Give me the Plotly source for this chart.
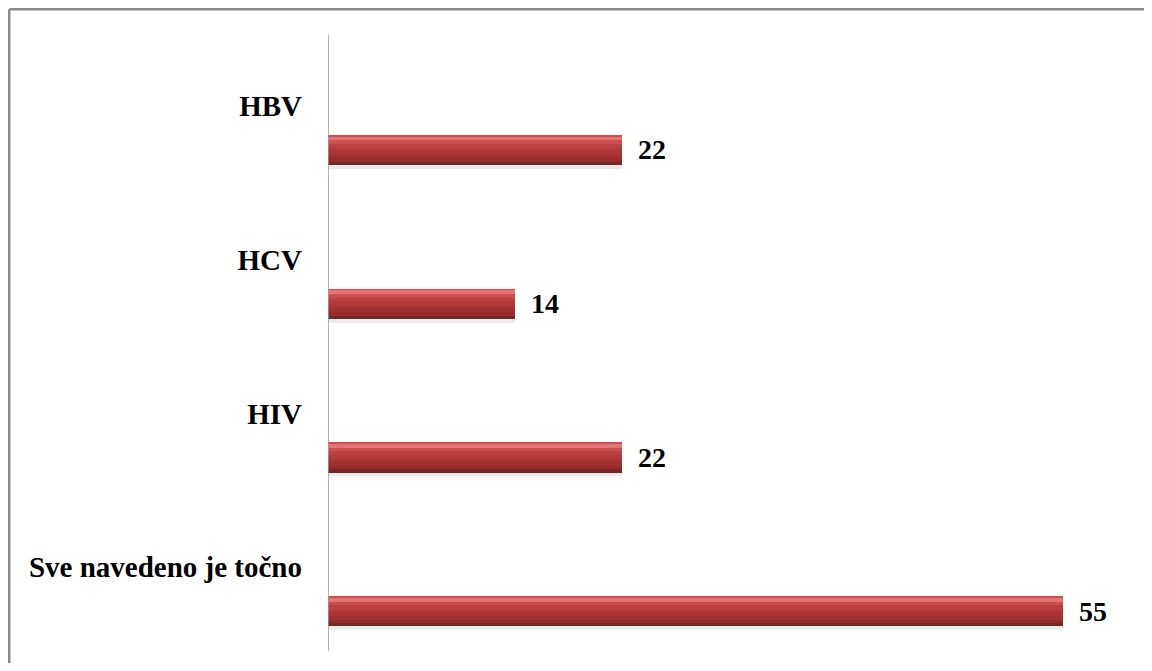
import plotly.graph_objects as go

# data
categories = ["HBV", "HCV", "HIV", "Sve navedeno je točno"]
values = [22, 14, 22, 55]

FONT = "Times New Roman, Liberation Serif, serif"

# bar sits in the lower part of each category band (label above it)
BAR_OFFSET = 0.189
BAR_WIDTH = 0.195

# horizontal slices used to fake the bevelled 3d look: (start, end, colour)
slices = [
    (0.00, 0.06, "#c85252"),
    (0.06, 0.18, "#e27474"),
    (0.18, 0.30, "#cd5050"),
    (0.30, 0.42, "#be4141"),
    (0.42, 0.54, "#b43a3a"),
    (0.54, 0.66, "#aa3434"),
    (0.66, 0.78, "#a02f2f"),
    (0.78, 0.90, "#962b2b"),
    (0.90, 1.00, "#7e2323"),
]

fig = go.Figure()

# faint drop shadow
fig.add_trace(go.Bar(
    x=values, y=categories, orientation="h",
    offset=BAR_OFFSET + 0.025, width=BAR_WIDTH,
    marker=dict(color="rgba(0,0,0,0.08)", line=dict(width=0)),
    hoverinfo="skip", showlegend=False,
))

for start, end, color in slices:
    fig.add_trace(go.Bar(
        x=values, y=categories, orientation="h",
        offset=BAR_OFFSET + start * BAR_WIDTH,
        width=(end - start) * BAR_WIDTH + 0.002,
        marker=dict(color=color, line=dict(width=0)),
        hoverinfo="skip", showlegend=False,
    ))

# value labels just right of each bar
for i, v in enumerate(values):
    fig.add_annotation(
        x=v, y=i + BAR_OFFSET + BAR_WIDTH / 2,
        text=str(v), showarrow=False,
        xanchor="left", yanchor="middle", xshift=14,
        font=dict(family=FONT, size=28, color="black", weight="bold"),
    )

# page adds an 8px body margin all round, so the figure is shrunk to fit
# the window without scrollbars
# outer chart border: only top and left edges are in view
border = dict(color="#8a8a8a", width=2.5)
fig.add_shape(type="line", xref="paper", yref="paper",
              x0=-0.3975, x1=1.2, y0=1.032, y1=1.032, line=border)
fig.add_shape(type="line", xref="paper", yref="paper",
              x0=-0.3975, x1=-0.3975, y0=-0.2, y1=1.032, line=border)
# vertical category axis line
fig.add_shape(type="line", xref="x", yref="paper",
              x0=0, x1=0, y0=-0.0114, y1=0.9902,
              line=dict(color="#9a9a9a", width=1.5))

fig.update_layout(
    width=1136, height=655,
    margin=dict(l=320, r=14, t=21, b=19),
    paper_bgcolor="white", plot_bgcolor="white",
    barmode="overlay", bargap=0,
    showlegend=False,
)
fig.update_xaxes(range=[0, 60], visible=False, fixedrange=True)
fig.update_yaxes(
    type="category", categoryorder="array", categoryarray=categories,
    range=[3.5, -0.5],
    showgrid=False, zeroline=False, showline=False, ticks="",
    ticklabelstandoff=25,
    tickfont=dict(family=FONT, size=29, color="black", weight="bold"),
    fixedrange=True,
)

fig.write_html("out.html")
